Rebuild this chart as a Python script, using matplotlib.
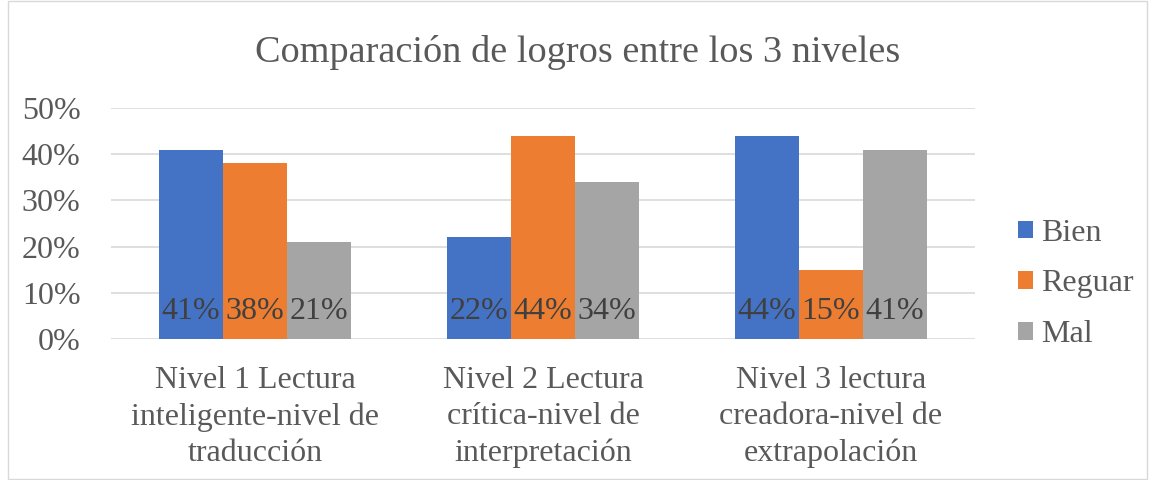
import matplotlib
matplotlib.use("Agg")
import matplotlib.pyplot as plt
import numpy as np
from matplotlib.patches import Rectangle

categories = ["Nivel 1 Lectura\ninteligente-nivel de\ntraducción",
              "Nivel 2 Lectura\ncrítica-nivel de\ninterpretación",
              "Nivel 3 lectura\ncreadora-nivel de\nextrapolación"]
series_names = ["Bien", "Reguar", "Mal"]
bien = [0.41, 0.22, 0.44]
reguar = [0.38, 0.44, 0.15]
mal = [0.21, 0.34, 0.41]
yticks = [0, 0.1, 0.2, 0.3, 0.4, 0.5]
ytick_labels = ["0%", "10%", "20%", "30%", "40%", "50%"]
colors = ["#4472C4", "#ED7D31", "#A5A5A5"]

plt.rcParams['font.family'] = ['Liberation Serif', 'DejaVu Serif']
txt = "#595959"
fs = 23

fig = plt.figure(figsize=(11.55, 4.8), dpi=100)
ax = fig.add_axes([111/1155, 1-339/480, (975-111)/1155, (339-108)/480])

x = np.arange(len(categories))
w = 0.2222
for i, (vals, name, c) in enumerate(zip([bien, reguar, mal], series_names, colors)):
    pos = x + (i - 1) * w
    ax.bar(pos, vals, width=w, color=c, label=name, zorder=3)
    for p, v in zip(pos, vals):
        ax.annotate(f"{round(v*100)}%", xy=(p, 0), xytext=(0, 19.5), textcoords="offset points",
                    ha="center", va="center", fontsize=fs, color="#404040", zorder=4)

ax.set_xlim(-0.5, 2.5)
ax.set_ylim(0, 0.5)
ax.set_yticks(yticks)
ax.set_yticklabels(ytick_labels, fontsize=fs, color=txt)
ax.set_xticks(x)
ax.set_xticklabels(categories, fontsize=fs, color=txt, linespacing=1.32)
ax.tick_params(axis="both", length=0)
ax.tick_params(axis="y", pad=22)
ax.tick_params(axis="x", pad=19.5)
ax.grid(axis="y", color="#D9D9D9", linewidth=1.2, zorder=0)
for s in ax.spines.values():
    s.set_visible(False)

fig.suptitle("Comparación de logros entre los 3 niveles", fontsize=27.5, color=txt, y=1-52/480, va="center")

leg = ax.legend(loc="center left", bbox_to_anchor=(1018/1155, 1-284/480), bbox_transform=fig.transFigure,
                frameon=False, fontsize=fs, handlelength=0.47, handleheight=0.47, handletextpad=0.25,
                labelspacing=0.68, borderpad=0, borderaxespad=0, labelcolor=txt)

fig.add_artist(Rectangle((8/1155, 0.003), 1-16/1155, 0.994, transform=fig.transFigure,
                         fill=False, edgecolor="#D9D9D9", linewidth=1))

fig.savefig("out.png", dpi=100)
